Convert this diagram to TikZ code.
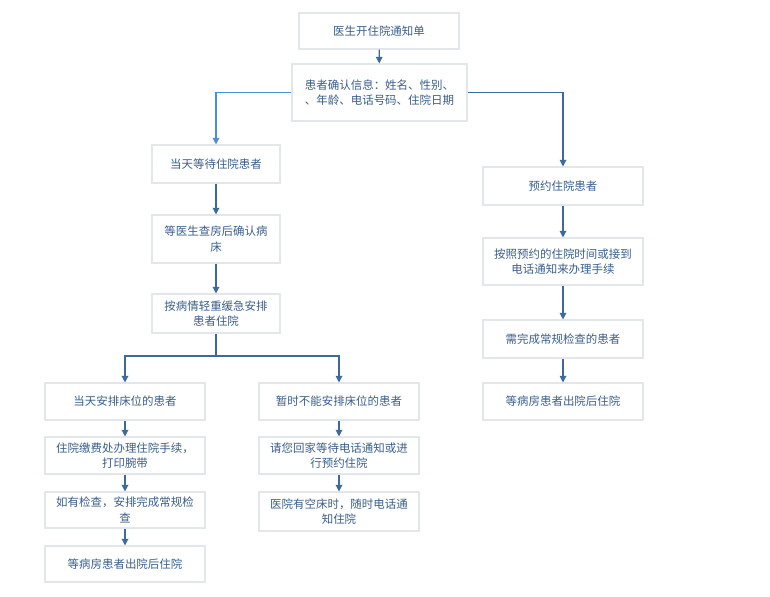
\documentclass[tikz,border=0pt]{standalone}
\usepackage{fontspec}
\setmainfont{Noto Sans CJK SC}
\usetikzlibrary{arrows.meta}
\definecolor{txt}{HTML}{3A5F8A}
\definecolor{ln}{HTML}{3D6A9A}
\definecolor{ln2}{HTML}{4A90D9}
\definecolor{bd}{HTML}{E3E6EA}
\begin{document}
\begin{tikzpicture}[x=0.75pt,y=-0.75pt,
  box/.style={draw=bd,line width=0.8pt,text=txt,font=\fontsize{8.6pt}{11.5pt}\selectfont,align=center,inner sep=0pt},
  arr/.style={draw=ln,line width=0.9pt,-{Triangle[length=5pt,width=5pt]}}]
\fill[white] (0,0) rectangle (770,596);
\useasboundingbox (0,0) rectangle (770,596);
\newcommand\bx[6]{\node[box,minimum width={(#4-#2)*0.75pt},minimum height={(#5-#3)*0.75pt}] (#1) at ({(#2+#4)/2},{(#3+#5)/2}) {#6};}
\bx{a}{299}{13}{459}{49}{医生开住院通知单}
\bx{b}{292}{64}{467}{121}{患者确认信息：姓名、性别、\\、年龄、电话号码、住院日期}
\bx{c}{152}{145}{280}{183}{当天等待住院患者}
\bx{d}{152}{215}{280}{263}{等医生查房后确认病\\床}
\bx{e}{152}{294}{280}{333}{按病情轻重缓急安排\\患者住院}
\bx{f}{45}{383}{205}{420}{当天安排床位的患者}
\bx{g}{45}{437}{205}{474}{住院缴费处办理住院手续，\\打印腕带}
\bx{h}{45}{492}{205}{528}{如有检查，安排完成常规检\\查}
\bx{i}{45}{546}{205}{582}{等病房患者出院后住院}
\bx{j}{259}{383}{419}{420}{暂时不能安排床位的患者}
\bx{k}{259}{437}{419}{474}{请您回家等待电话通知或进\\行预约住院}
\bx{l}{259}{492}{419}{531}{医院有空床时，随时电话通\\知住院}
\bx{m}{483}{167}{643}{205}{预约住院患者}
\bx{n}{483}{238}{643}{285}{按照预约的住院时间或接到\\电话通知来办理手续}
\bx{o}{483}{320}{643}{358}{需完成常规检查的患者}
\bx{p}{483}{383}{643}{420}{等病房患者出院后住院}
\draw[arr] (a) -- (b);
\draw[arr,draw=ln2] (b.west) -| (c.north);
\draw[arr] (b.east) -| (m.north);
\draw[arr] (c) -- (d);
\draw[arr] (d) -- (e);
\coordinate (s) at (216,356);
\draw[arr] (e.south) -- (s) -| (f.north);
\draw[arr] (s) -| (j.north);
\draw[arr] (f) -- (g);
\draw[arr] (g) -- (h);
\draw[arr] (h) -- (i);
\draw[arr] (j) -- (k);
\draw[arr] (k) -- (l);
\draw[arr] (m) -- (n);
\draw[arr] (n) -- (o);
\draw[arr] (o) -- (p);
\end{tikzpicture}
\end{document}
